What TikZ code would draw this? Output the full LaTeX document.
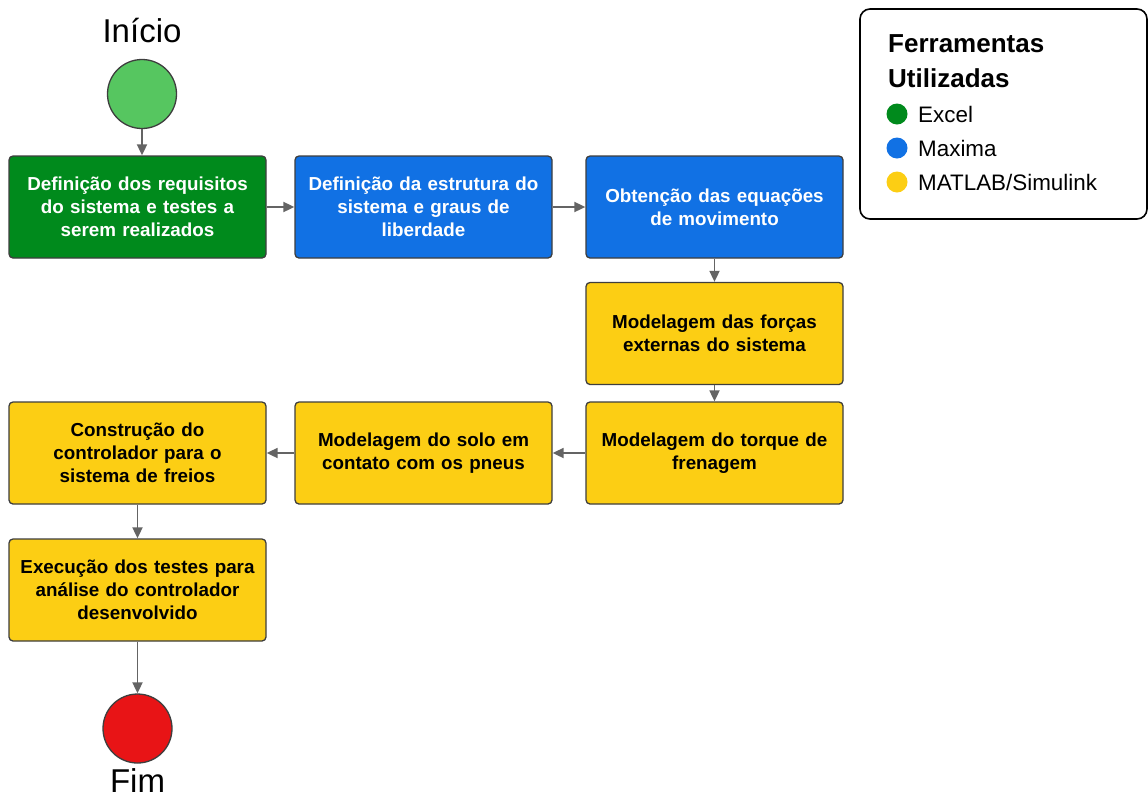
\documentclass[tikz,border=0pt]{standalone}
\usepackage{fontspec}
\setmainfont{Liberation Sans}
\usepackage{xcolor}
\definecolor{verde}{RGB}{0,138,28}
\definecolor{azul}{RGB}{17,113,228}
\definecolor{amarelo}{RGB}{252,206,20}
\definecolor{verdeclaro}{RGB}{86,198,96}
\definecolor{vermelho}{RGB}{232,20,22}
\definecolor{borda}{RGB}{62,62,62}
\definecolor{cinza}{RGB}{100,100,100}
\usepackage{tikz}
\usetikzlibrary{arrows.meta}
\usetikzlibrary{positioning}

\begin{document}
\begin{tikzpicture}[x=1pt,y=-1pt,
  etapa/.style={draw=borda,line width=1.3pt,rounded corners=4pt,minimum width=257pt,minimum height=102pt,
    text width=245pt,inner xsep=6pt,align=center,font=\fontsize{18.8}{23}\selectfont\bfseries},
  seta/.style={draw=cinza,line width=1.8pt,-{Triangle[length=11pt,width=10pt]}},
  marco/.style={circle,draw=borda,line width=1.3pt,minimum size=69pt},
  ponto/.style={circle,draw=none,minimum size=21pt,inner sep=0pt},
  item/.style={anchor=base west,inner sep=0pt,font=\fontsize{22.4}{26}\selectfont},
  titulo/.style={anchor=base west,inner sep=0pt,font=\fontsize{26}{30}\selectfont\bfseries}]
\useasboundingbox (0,0) rectangle (1148,796);
% inicio e fim
\node (inicio) [marco,fill=verdeclaro] at (142,94) {};
\node (txtinicio) [anchor=base,font=\fontsize{33}{38}\selectfont] at (142,42) {Início};
\node (fim) [marco,fill=vermelho] at (137.5,728.5) {};
\node (txtfim) [anchor=base,inner sep=0pt,font=\fontsize{33}{38}\selectfont] at (137.5,792) {Fim};
% etapas
\node (requisitos) [etapa,fill=verde,text=white] at (137.5,207) {Definição dos requisitos\\do sistema e testes a\\serem realizados};
\node (estrutura) [etapa,fill=azul,text=white] at (423.5,207) {Definição da estrutura do\\sistema e graus de\\liberdade};
\node (equacoes) [etapa,fill=azul,text=white] at (714.5,207) {Obtenção das equações\\de movimento};
\node (forcas) [etapa,fill=amarelo] at (714.5,333.5) {Modelagem das forças\\externas do sistema};
\node (torque) [etapa,fill=amarelo] at (714.5,453) {Modelagem do torque de\\frenagem};
\node (solo) [etapa,fill=amarelo] at (423.5,453) {Modelagem do solo em\\contato com os pneus};
\node (controlador) [etapa,fill=amarelo] at (137.5,453) {Construção do\\controlador para o\\sistema de freios};
\node (testes) [etapa,fill=amarelo] at (137.5,590) {Execução dos testes para\\análise do controlador\\desenvolvido};
% conexoes
\draw[seta] (inicio) -- (inicio |- requisitos.north);
\draw[seta] (requisitos) -- (estrutura);
\draw[seta] (estrutura) -- (equacoes);
\draw[seta] (equacoes) -- (forcas);
\draw[seta] (forcas) -- (torque);
\draw[seta] (torque) -- (solo);
\draw[seta] (solo) -- (controlador);
\draw[seta] (controlador) -- (testes);
\draw[seta] (testes) -- (fim);
% legenda
\draw[line width=1.6pt,rounded corners=10pt] (860,9) rectangle (1147,219);
\node (legtitulo1) [titulo] at (888,52) {Ferramentas};
\node (legtitulo2) [titulo] at (888,87) {Utilizadas};
\node (ptexcel) [ponto,fill=verde] at (897,114) {};
\node (ptmaxima) [ponto,fill=azul] at (897,148) {};
\node (ptmatlab) [ponto,fill=amarelo] at (897,182) {};
\node (excel) [item] at (918,122) {Excel};
\node (maxima) [item] at (918,156.5) {Maxima};
\node (matlab) [item] at (918,190.5) {MATLAB/Simulink};
\end{tikzpicture}
\end{document}
